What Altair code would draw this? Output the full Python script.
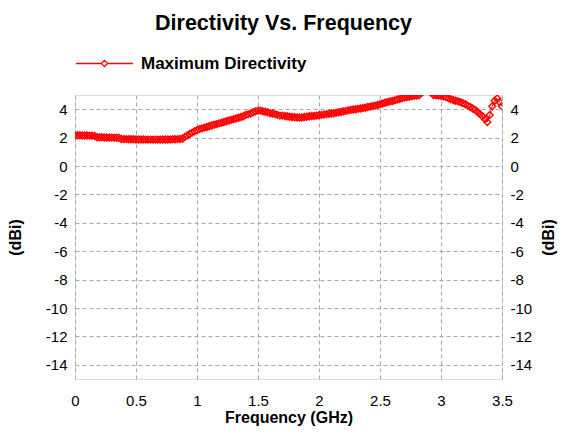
import numpy as np
import pandas as pd
import altair as alt

# Frequency (GHz) sample points
freq = [round(v, 2) for v in np.arange(0, 3.5001, 0.02)]

# Maximum directivity (dBi)
directivity = [
    2.17, 2.16, 2.16, 2.15, 2.15, 2.15, 2.14, 2.14, 2.12,
    2.03, 2.02, 2.02, 2.01, 2.01, 2.0, 2.0, 2.0, 1.99, 1.99,
    1.9, 1.89, 1.89, 1.88, 1.88, 1.88, 1.87, 1.87, 1.87, 1.87, 1.86, 1.86, 1.86,
    1.86, 1.86, 1.86, 1.86, 1.87, 1.87, 1.87, 1.87, 1.88, 1.88, 1.89, 1.9, 1.92,
    2.05, 2.15, 2.25, 2.35, 2.45, 2.52, 2.6, 2.65, 2.7, 2.75, 2.8, 2.85, 2.9, 2.95, 3.0,
    3.05, 3.1, 3.15, 3.2, 3.25, 3.3, 3.35, 3.4, 3.45, 3.5, 3.6, 3.65, 3.7, 3.78, 3.85,
    3.9, 3.9, 3.85, 3.82, 3.78, 3.72, 3.7, 3.65, 3.6, 3.55, 3.55, 3.52, 3.5, 3.47, 3.45,
    3.43, 3.42, 3.42, 3.42, 3.45, 3.47, 3.5, 3.52, 3.52, 3.55,
    3.57, 3.6, 3.62, 3.65, 3.68, 3.7, 3.72, 3.75, 3.78, 3.8, 3.85, 3.88, 3.92, 3.95, 3.98,
    4.0, 4.02, 4.05, 4.08, 4.1, 4.15, 4.18, 4.22, 4.25, 4.3,
    4.35, 4.4, 4.45, 4.5, 4.55, 4.58, 4.62, 4.68, 4.72, 4.78, 4.82, 4.85, 4.88, 4.92, 4.95,
    4.97, 4.98, 5.15, 5.3, 5.35, 5.3, 5.15, 4.99, 4.98, 4.97,
    4.95, 4.9, 4.85, 4.78, 4.7, 4.65, 4.6, 4.55, 4.5, 4.42, 4.35, 4.25, 4.15, 4.05, 3.95,
    3.8, 3.65, 3.5, 3.3, 3.1, 3.6, 4.2, 4.6, 4.75, 4.5, 4.2,
]
series_name = "Maximum Directivity"

x_ticks = [0, 0.5, 1, 1.5, 2, 2.5, 3, 3.5]
y_ticks = [-14, -12, -10, -8, -6, -4, -2, 0, 2, 4]

df = pd.DataFrame({"freq": freq, "dir": directivity, "series": series_name})

FONT = "Liberation Sans"
RED = "#ff0000"
GRID = "#a8a8a8"
LABEL_SIZE = 15
TITLE_SIZE = 16

x_enc = alt.X(
    "freq:Q",
    scale=alt.Scale(domain=[0, 3.5], nice=False, zero=False),
    axis=alt.Axis(
        values=x_ticks, title="Frequency (GHz)", labelPadding=14, titlePadding=1,
        labelExpr="'' + datum.value",
        labelFontSize=LABEL_SIZE, titleFontSize=TITLE_SIZE, titleFontWeight="bold",
        labelFont=FONT, titleFont=FONT, labelColor="#000", titleColor="#000",
        grid=True, gridDash=[4, 3], gridColor=GRID, ticks=False, domain=False,
        labelFlush=False,
    ),
)

def y_enc(orient, pad, tpad):
    return alt.Y(
        "dir:Q",
        scale=alt.Scale(domain=[-15, 5], nice=False, zero=False),
        axis=alt.Axis(
            orient=orient, values=y_ticks, title="(dBi)", titleAngle=270,
            labelExpr="'' + datum.value",
            labelPadding=pad, titlePadding=tpad,
            labelFontSize=LABEL_SIZE, titleFontSize=TITLE_SIZE, titleFontWeight="bold",
            labelFont=FONT, titleFont=FONT, labelColor="#000", titleColor="#000",
            grid=(orient == "left"), gridDash=[4, 3], gridColor=GRID,
            ticks=False, domain=False, labelFlush=False,
        ),
    )

color = alt.Color(
    "series:N",
    scale=alt.Scale(domain=[series_name], range=[RED]),
    legend=alt.Legend(
        title=None, orient="none", legendX=0, legendY=-61,
        symbolType="M-1,0L-0.11,0M0.11,0L1,0M-0.11,0L0,-0.11L0.11,0L0,0.11Z",
        symbolSize=3249, symbolStrokeWidth=1.3, symbolFillColor="white",
        symbolStrokeColor=RED,
        labelFont=FONT, labelFontSize=17, labelFontWeight="bold", labelLimit=400,
        labelColor="#000", labelOffset=7, padding=0,
    ),
)

line = alt.Chart(df).mark_line(color=RED, strokeWidth=1, clip=True).encode(
    x=x_enc, y=y_enc("left", 8, 22), color=color
)
points = alt.Chart(df).mark_point(
    shape="diamond", filled=False, color=RED, size=48, strokeWidth=1.4, clip=True, opacity=1
).encode(x=x_enc, y=y_enc("right", 8, 25), color=color)

chart = (
    alt.layer(line, points)
    .resolve_axis(y="independent")
    .properties(
        width=427,
        height=284,
        padding={"left": 67, "top": 87, "right": 56, "bottom": 47},
        autosize=alt.AutoSizeParams(type="none"),
        title=alt.TitleParams(
            "Directivity Vs. Frequency", font=FONT, fontSize=21.5, fontWeight="bold",
            color="#000", anchor="middle", frame="group", baseline="top", offset=0, dx=-5,
        ),
    )
    .configure_view(stroke="#000", strokeWidth=1)
    .configure(background="white")
)

chart.save("out.html", embed_options={"renderer": "svg", "actions": False})
